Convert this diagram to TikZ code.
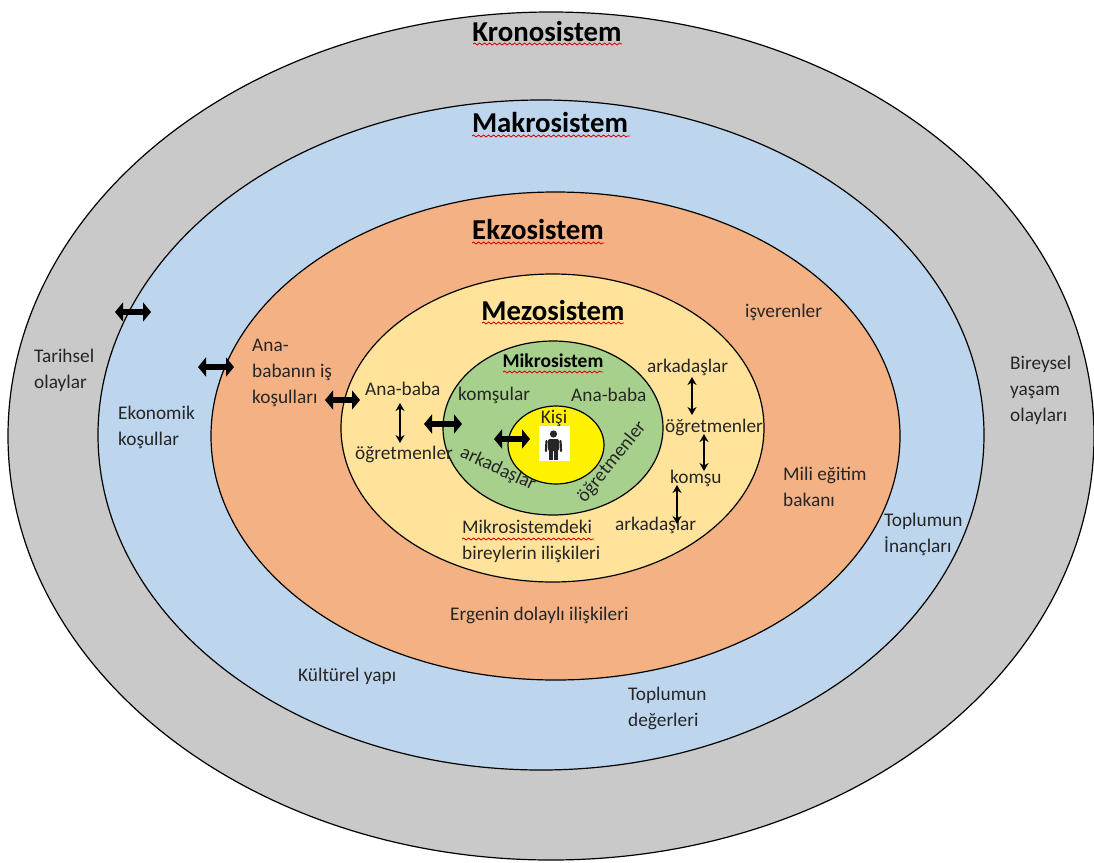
\documentclass[tikz,border=0pt]{standalone}
\usepackage{fontspec}
\setmainfont{Carlito}
\usetikzlibrary{arrows.meta,decorations.pathmorphing}
\definecolor{kgray}{HTML}{C9C9C9}
\definecolor{kblue}{HTML}{BDD6EE}
\definecolor{korange}{HTML}{F4B183}
\definecolor{kyellow}{HTML}{FFE39A}
\definecolor{kgreen}{HTML}{A8D08D}
\definecolor{kperson}{HTML}{262626}
\tikzset{
 ring/.style={draw=black,line width=1.2pt},
 lab/.style={font=\fontsize{19.3}{26}\selectfont,align=left,inner sep=0pt,text=black!85},
 title/.style={font=\fontsize{28.8}{32}\selectfont\bfseries,inner sep=0pt,text=black},
 subtitle/.style={font=\fontsize{19.5}{23}\selectfont\bfseries,inner sep=0pt,text=black},
 small/.style={draw=black,line width=1.2pt,{Stealth[length=8pt,width=9pt]}-{Stealth[length=8pt,width=9pt]}},
 big/.style={draw=black,line width=6.5pt,{Triangle[length=8pt,width=19pt]}-{Triangle[length=8pt,width=19pt]}},
 squig/.style={draw=red!85!black,line width=.8pt,decorate,decoration={snake,amplitude=1pt,segment length=5pt}}
}
\begin{document}
\begin{tikzpicture}[x=1pt,y=-1pt]
\useasboundingbox (0,0) rectangle (1094,862);
\fill[white] (0,0) rectangle (1094,862);
\begin{scope}
\clip (0,0) rectangle (1094,862);
\draw[ring,fill=kgray] (551,436) ellipse [x radius=543,y radius=424];
\end{scope}
\draw[ring,fill=kblue] (541,435) ellipse [x radius=443,y radius=335];
\draw[ring,fill=korange] (555.5,436) ellipse [x radius=344.5,y radius=244];
\draw[ring,fill=kyellow] (552.5,428) ellipse [x radius=211.5,y radius=154];
\draw[ring,fill=kgreen] (553,428) ellipse [x radius=110,y radius=87];
\draw[ring,fill=yellow] (556,445) ellipse [x radius=48,y radius=39];

% titles
\node[title] (kro) at (547,32) {Kronosistem};
\node[title] (mak) at (550,122) {Makrosistem};
\node[title] (ekz) at (538,229) {Ekzosistem};
\node[title] (mez) at (553,310) {Mezosistem};
\node[subtitle] (mik) at (553,361) {Mikrosistem};
\draw[squig] (473,44) -- (622,44);
\draw[squig] (472,136) -- (630,136);
\draw[squig] (472,243) -- (604,243);
\draw[squig] (482,323) -- (624,323);
\draw[squig] (503,372) -- (603,372);
\draw[squig] (462,539) -- (594,539);

% labels
\node[lab] (kisi) at (554,418) {Kişi};
\fill[white] (539,426) rectangle (570,461);
\fill[kperson] (553.5,434) circle (3.6);
\fill[kperson,rounded corners=2pt] (548,439) rectangle (559,451);
\draw[kperson,line width=2.2pt,line cap=round] (546.5,441) -- (546,451);
\draw[kperson,line width=2.2pt,line cap=round] (560.5,441) -- (561,451);
\fill[kperson] (549,450) rectangle (553,460);
\fill[kperson] (554,450) rectangle (558,460);

\node[lab] (tarih) at (34,370) [anchor=west] {Tarihsel\\olaylar};
\node[lab] (ekon) at (118,427) [anchor=west] {Ekonomik\\koşullar};
\node[lab] (anab) at (252,373) [anchor=west] {Ana-\\babanın iş\\koşulları};
\node[lab] (ab1) at (365,389) [anchor=west] {Ana-baba};
\node[lab] (og1) at (355,454) [anchor=west] {öğretmenler};
\node[lab] (kom1) at (458,395) [anchor=west] {komşular};
\node[lab] (ab2) at (571,395) [anchor=west] {Ana-baba};
\node[lab,rotate=-25] (ark1) at (498,469) {arkadaşlar};
\node[lab,rotate=51] (og2) at (612,462) {öğretmenler};
\node[lab] (ark2) at (647,367) [anchor=west] {arkadaşlar};
\node[lab] (og3) at (665,427) [anchor=west] {öğretmenler};
\node[lab] (kom2) at (670,478) [anchor=west] {komşu};
\node[lab] (ark3) at (615,525) [anchor=west] {arkadaşlar};
\node[lab] (mikb) at (462,541) [anchor=west] {Mikrosistemdeki\\bireylerin ilişkileri};
\node[lab] (isv) at (745,312) [anchor=west] {işverenler};
\node[lab] (mili) at (783,487) [anchor=west] {Mili eğitim\\bakanı};
\node[lab] (erg) at (450,615) [anchor=west] {Ergenin dolaylı ilişkileri};
\node[lab] (inan) at (884,534) [anchor=west] {Toplumun\\İnançları};
\node[lab] (kult) at (298,676) [anchor=west] {Kültürel yapı};
\node[lab] (deg) at (628,708) [anchor=west] {Toplumun\\değerleri};
\node[lab] (bir) at (1010,390) [anchor=west] {Bireysel\\yaşam\\olayları};

% thin arrows
\coordinate (a1t) at (400,403); \coordinate (a1b) at (400,443);
\coordinate (a2t) at (692,377); \coordinate (a2b) at (692,415);
\coordinate (a3t) at (704,434); \coordinate (a3b) at (704,471);
\coordinate (a4t) at (677,485); \coordinate (a4b) at (677,524);
\draw[small] (a1t) -- (a1b);
\draw[small] (a2t) -- (a2b);
\draw[small] (a3t) -- (a3b);
\draw[small] (a4t) -- (a4b);

% block arrows
\coordinate (b1l) at (115,312); \coordinate (b1r) at (151,312);
\coordinate (b2l) at (198,367); \coordinate (b2r) at (234,367);
\coordinate (b3l) at (325,400); \coordinate (b3r) at (360,400);
\coordinate (b4l) at (424,424); \coordinate (b4r) at (462,424);
\coordinate (b5l) at (494,439); \coordinate (b5r) at (530,439);
\draw[big] (b1l) -- (b1r);
\draw[big] (b2l) -- (b2r);
\draw[big] (b3l) -- (b3r);
\draw[big] (b4l) -- (b4r);
\draw[big] (b5l) -- (b5r);
\end{tikzpicture}
\end{document}
